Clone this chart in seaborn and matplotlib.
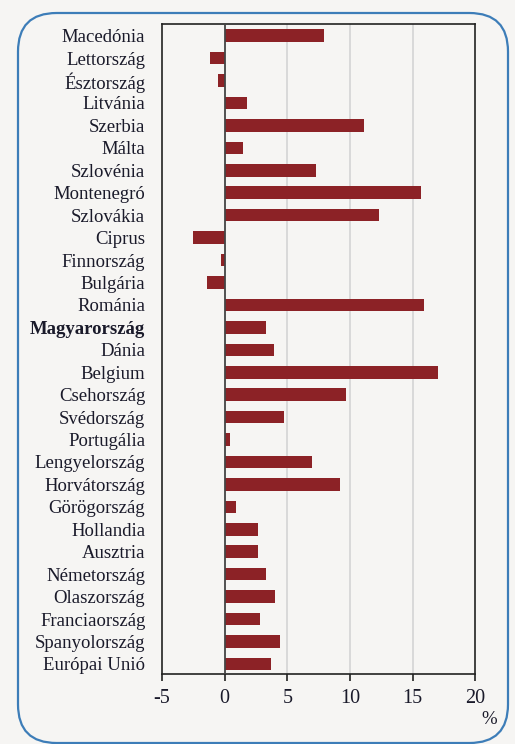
import matplotlib
matplotlib.use("Agg")
import matplotlib.pyplot as plt
from matplotlib.patches import FancyBboxPatch
import seaborn as sns
import pandas as pd

countries = [
    "Macedónia", "Lettország", "Észtország", "Litvánia", "Szerbia", "Málta",
    "Szlovénia", "Montenegró", "Szlovákia", "Ciprus", "Finnország", "Bulgária",
    "Románia", "Magyarország", "Dánia", "Belgium", "Csehország", "Svédország",
    "Portugália", "Lengyelország", "Horvátország", "Görögország", "Hollandia",
    "Ausztria", "Németország", "Olaszország", "Franciaország", "Spanyolország",
    "Európai Unió",
]
values = [
    7.9, -1.2, -0.5, 1.8, 11.1, 1.5,
    7.3, 15.7, 12.3, -2.5, -0.3, -1.4,
    15.9, 3.3, 3.9, 17.0, 9.7, 4.7,
    0.4, 7.0, 9.2, 0.9, 2.7,
    2.7, 3.3, 4.0, 2.8, 4.4,
    3.7,
]
x_ticks = [-5, 0, 5, 10, 15, 20]
highlight = "Magyarország"

df = pd.DataFrame({"country": countries, "value": values})

sns.set_theme(style="white")
plt.rcParams["font.family"] = ["Liberation Serif", "DejaVu Serif"]

bg = "#f6f5f3"
bar_color = "#8c2226"
text_color = "#1a1a2a"

fig = plt.figure(figsize=(5.15, 7.44), dpi=100, facecolor=bg)

# rounded blue frame around the panel
frame = FancyBboxPatch((18 / 515, 1 - 743 / 744), 490 / 515, 730 / 744,
                       boxstyle="round,pad=0,rounding_size=0.075",
                       transform=fig.transFigure, facecolor="none",
                       edgecolor="#3d7db8", linewidth=1.6, mutation_aspect=515 / 744)
fig.patches.append(frame)

ax = fig.add_axes([162 / 515, 1 - 674 / 744, 313.3 / 515, 650 / 744])
ax.set_facecolor(bg)

sns.barplot(data=df, x="value", y="country", orient="h", color=bar_color,
            width=0.56, ax=ax, saturation=1, linewidth=0)

ax.set_xlim(-5, 20)
ax.set_ylim(28.45, -0.52)
ax.set_xticks(x_ticks)
ax.set_xticklabels([str(t) for t in x_ticks], fontsize=14.5, color=text_color)
ax.set_xlabel("")
ax.set_ylabel("")

for gx in [5, 10, 15]:
    ax.axvline(gx, color="#d4d4d4", linewidth=1.2, zorder=0)
ax.axvline(0, color="#444444", linewidth=1.3, zorder=3)

ax.tick_params(axis="x", direction="out", length=5, width=1.2, color="#222222",
               pad=6, bottom=True)
ax.tick_params(axis="y", length=0, pad=12)
for lbl in ax.get_yticklabels():
    lbl.set_fontsize(13.5)
    lbl.set_color(text_color)
    if lbl.get_text() == highlight:
        lbl.set_fontweight("bold")

for sp in ax.spines.values():
    sp.set_visible(True)
    sp.set_color("#222222")
    sp.set_linewidth(1.2)

fig.text(489 / 515, 1 - 719 / 744, "%", ha="center", va="center",
         fontsize=13.5, color=text_color)

fig.savefig("out.png", dpi=100, facecolor=bg)
